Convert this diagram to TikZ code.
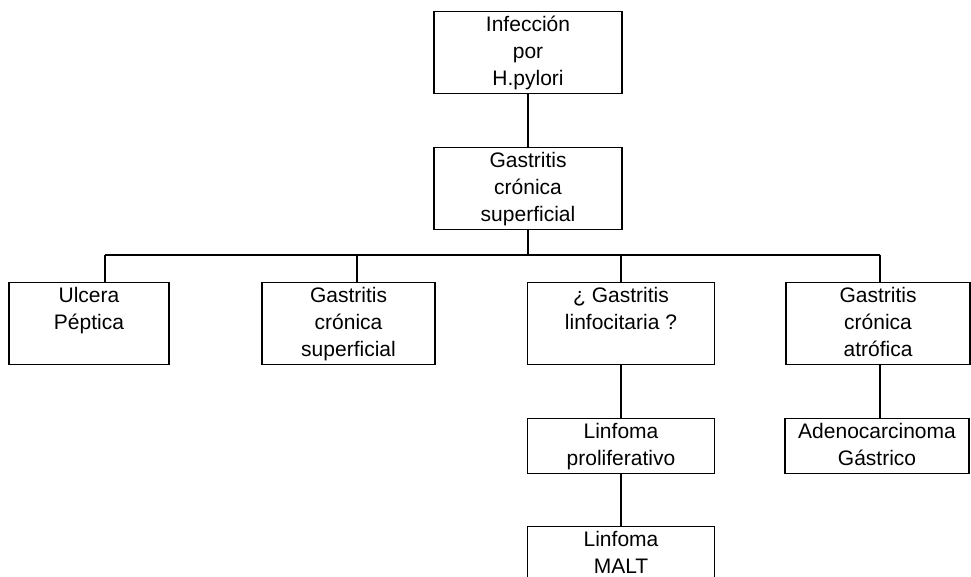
\documentclass[tikz,border=0pt]{standalone}
\usepackage{fontspec}
\setmainfont{Liberation Sans}
\usetikzlibrary{calc}

\newcommand{\lineas}[1]{\begin{tabular}[t]{@{}c@{}}#1\end{tabular}}

\tikzset{
  caja/.style={draw, line width=1.4pt, anchor=north,
    inner xsep=0pt, inner ysep=6pt, text height=14pt,
    font=\fontsize{21}{27}\selectfont},
  alta/.style={caja, minimum width=#1, text depth=56pt},
  baja/.style={caja, minimum width=#1, text depth=29pt},
  linea/.style={-, line width=1.4pt}
}

\begin{document}
\begin{tikzpicture}[x=1pt, y=-1pt]

\clip (0, 0) rectangle (971, 577);
\fill[white] (0, 0) rectangle (971, 577);

\node[alta=188pt] (infeccion) at (528, 11) {\lineas{Infección\\por\\H.pylori}};
\node[alta=188pt] (gcs) at (528, 147) {\lineas{Gastritis\\crónica\\superficial}};

\node[alta=160pt] (ulcera) at (89, 282) {\lineas{Ulcera\\Péptica}};
\node[alta=173pt] (gcs2) at (348.5, 282) {\lineas{Gastritis\\crónica\\superficial}};
\node[alta=187pt] (linfocitaria) at (621, 282) {\lineas{¿ Gastritis\\linfocitaria ?}};
\node[alta=184pt] (atrofica) at (878, 282) {\lineas{Gastritis\\crónica\\atrófica}};

\node[baja=187pt] (proliferativo) at (621, 418) {\lineas{Linfoma\\proliferativo}};
\node[baja=184pt] (adeno) at (877, 418) {\lineas{Adenocarcinoma\\Gástrico}};
\node[alta=187pt] (malt) at (621, 526) {\lineas{Linfoma\\MALT}};

% barra horizontal
\coordinate (barraL) at (105, 255);
\coordinate (barra2) at (357, 255);
\coordinate (barraR) at (880, 255);

\draw[linea] (infeccion) -- (gcs);
\draw[linea] (gcs.south) -- (gcs.south |- barraL);
\draw[linea] (barraL) -- (barraR);

\draw[linea] (barraL) -- (barraL |- ulcera.north);
\draw[linea] (barra2) -- (barra2 |- gcs2.north);
\draw[linea] (linfocitaria.north |- barraL) -- (linfocitaria.north);
\draw[linea] (barraR) -- (barraR |- atrofica.north);

\draw[linea] (linfocitaria) -- (proliferativo);
\draw[linea] (proliferativo) -- (malt);
\draw[linea] (atrofica.south -| barraR) -- (adeno.north -| barraR);

\end{tikzpicture}
\end{document}
